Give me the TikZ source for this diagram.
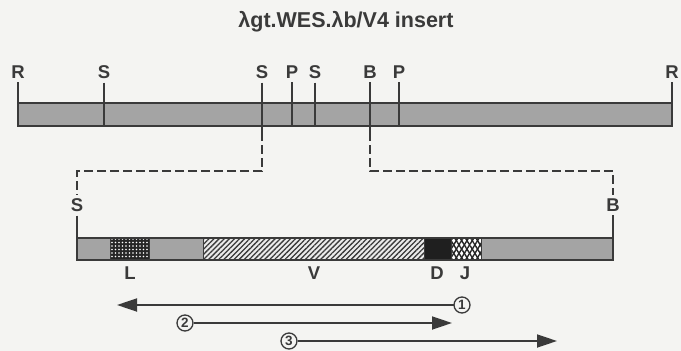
\documentclass[tikz,border=0pt]{standalone}
\usepackage{fontspec}
\setmainfont{Liberation Sans}
\usetikzlibrary{patterns.meta,arrows.meta}
\definecolor{ink}{HTML}{3A3A3A}
\definecolor{bg}{HTML}{F4F4F2}
\definecolor{bargray}{HTML}{A4A4A4}
\begin{document}
\begin{tikzpicture}[x=1pt,y=-1pt,
  lab/.style={font=\bfseries\fontsize{18.5}{18.5}\selectfont, text=ink, inner xsep=0pt, inner ysep=0pt, outer sep=4pt},
  titlelab/.style={font=\bfseries\fontsize{21.5}{21.5}\selectfont, text=ink, inner sep=0pt},
  tickline/.style={draw=ink, line width=1.3pt},
  dashline/.style={draw=ink, line width=1.3pt, dash pattern=on 9pt off 4pt},
  segline/.style={draw=ink, line width=1pt},
  graybar/.style={fill=bargray},
  arr/.style={draw=ink, line width=1.8pt, -{Triangle[length=20pt,width=13pt]}},
  num/.style={circle, draw=ink, line width=1.3pt, minimum size=16pt, inner sep=0pt, outer sep=0.5pt,
    font=\bfseries\fontsize{13.5}{13.5}\selectfont, text=ink}]
\fill[bg] (0,0) rectangle (681,351);
\useasboundingbox (0,0) rectangle (681,351);

% title
\node[titlelab] (title) at (346,22) {λgt.WES.λb/V4 insert};

% top bar
\fill[graybar] (18,103) rectangle (672,126);
\draw[segline, line width=1.4pt] (18,103) rectangle (672,126);

% top labels
\node[lab] (tR1) at (18,72) {R};
\node[lab] (tS1) at (104,72) {S};
\node[lab] (tS2) at (262,72) {S};
\node[lab] (tP1) at (292,72) {P};
\node[lab] (tS3) at (315,72) {S};
\node[lab] (tB1) at (370,72) {B};
\node[lab] (tP2) at (399,72) {P};
\node[lab] (tR2) at (672,72) {R};

\coordinate (bR1) at (18,126);
\coordinate (bS1) at (104,126);
\coordinate (bS2) at (262,126);
\coordinate (bP1) at (292,126);
\coordinate (bS3) at (315,126);
\coordinate (bB1) at (370,126);
\coordinate (bP2) at (399,126);
\coordinate (bR2) at (672,126);

\draw[tickline] (tR1) -- (bR1);
\draw[tickline] (tS1) -- (bS1);
\draw[tickline] (tS2) -- (bS2);
\draw[tickline] (tP1) -- (bP1);
\draw[tickline] (tS3) -- (bS3);
\draw[tickline] (tB1) -- (bB1);
\draw[tickline] (tP2) -- (bP2);
\draw[tickline] (tR2) -- (bR2);

% lower labels at ends
\node[lab] (lS) at (77,205) {S};
\node[lab] (lB) at (613,205) {B};

% dashed connectors
\coordinate (cS1) at (262,171);
\coordinate (cS2) at (77,171);
\coordinate (cB1) at (370,171);
\coordinate (cB2) at (613,171);
\draw[tickline] (bS2) -- ++(0,6);
\draw[tickline] (bB1) -- ++(0,6);
\draw[dashline] (bS2) ++(0,6) -- (cS1) -- (cS2) -- (lS);
\draw[dashline] (bB1) ++(0,6) -- (cB1) -- (cB2) -- (lB);

% lower bar
\coordinate (lbS) at (77,238);
\coordinate (lbB) at (613,238);
\fill[graybar] (77,238) rectangle (110,260);
\fill[black!85] (110,238) rectangle (149,260);
\fill[pattern={Dots[distance=3.5pt,radius=0.9pt]}, pattern color=white] (110,238) rectangle (149,260);
\fill[white!92!black] (203,238) rectangle (424,260);
\fill[pattern={Lines[angle=45,distance=3.6pt,line width=1.3pt]}, pattern color=ink] (203,238) rectangle (424,260);
\fill[graybar] (149,238) rectangle (203,260);
\fill[black!88] (424,238) rectangle (451,260);
\fill[white] (451,238) rectangle (481,260);
\fill[pattern={Lines[angle=58,distance=4.5pt,line width=1.4pt]}, pattern color=black!85] (451,238) rectangle (481,260);
\fill[pattern={Lines[angle=-58,distance=4.5pt,line width=1.4pt]}, pattern color=black!85] (451,238) rectangle (481,260);
\fill[graybar] (481,238) rectangle (613,260);
\draw[segline] (110,238) -- (110,260) (149,238) -- (149,260) (203,238) -- (203,260)
  (424,238) -- (424,260) (451,238) -- (451,260) (481,238) -- (481,260);
\draw[segline, line width=1.4pt] (77,238) rectangle (613,260);
\draw[tickline] (lS) -- (lbS);
\draw[tickline] (lB) -- (lbB);

% segment labels
\node[lab] (sL) at (130,273) {L};
\node[lab] (sV) at (314,273) {V};
\node[lab] (sD) at (437,273) {D};
\node[lab] (sJ) at (465,273) {J};

% arrows
\node[num] (n1) at (462,305) {1};
\node[num] (n2) at (185,323) {2};
\node[num] (n3) at (289,341) {3};
\coordinate (a1) at (117,305);
\coordinate (a2) at (452,323);
\coordinate (a3) at (557,341);
\draw[arr] (n1) -- (a1);
\draw[arr] (n2) -- (a2);
\draw[arr] (n3) -- (a3);
\end{tikzpicture}
\end{document}
